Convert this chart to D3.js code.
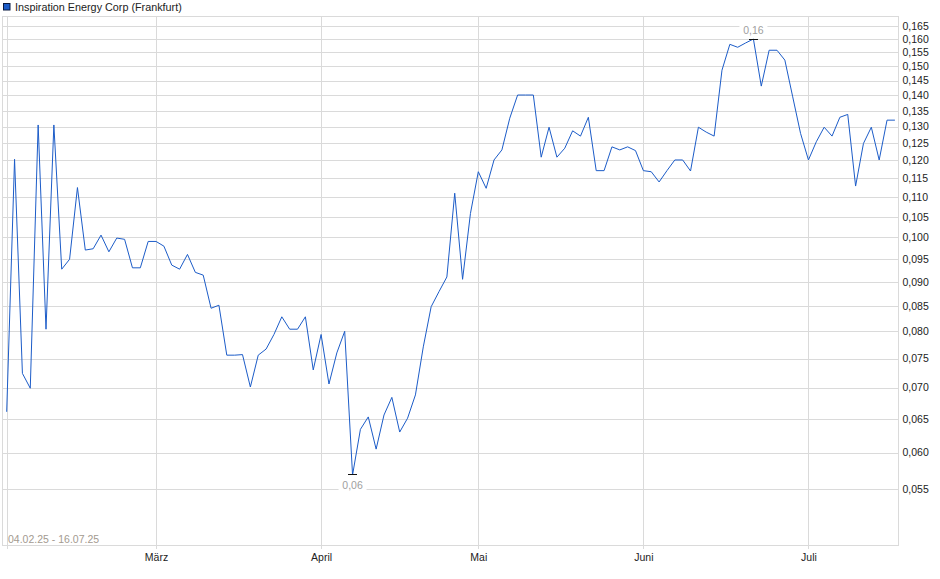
<!DOCTYPE html>
<html>
<head>
<meta charset="utf-8">
<script src="https://cdn.jsdelivr.net/npm/d3@7"></script>
<style>
  body { margin: 0; background: #fff; }
  text { font-family: "Liberation Sans", Arial, sans-serif; }
</style>
</head>
<body>
<svg id="chart" width="940" height="579"></svg>
<script>
// chart data (closing prices per trading day, 04.02.25 - 16.07.25)
const title = "Inspiration Energy Corp (Frankfurt)";
const rangeLabel = "04.02.25 - 16.07.25";
const prices = [
  0.0661, 0.1203, 0.0724, 0.0699, 0.1305, 0.0804, 0.1305, 0.0927, 0.0949, 0.1125,
  0.0970, 0.0973, 0.1005, 0.0966, 0.0998, 0.0995, 0.0930, 0.0930, 0.0990, 0.0990,
  0.0979, 0.0936, 0.0927, 0.0960, 0.0920, 0.0914, 0.0845, 0.0851, 0.0756, 0.0756,
  0.0757, 0.0701, 0.0756, 0.0767, 0.0794, 0.0828, 0.0804, 0.0804, 0.0828, 0.0730,
  0.0794, 0.0706, 0.0760, 0.0800, 0.0569, 0.0634, 0.0653, 0.0605, 0.0656, 0.0684,
  0.0630, 0.0651, 0.0688, 0.0771, 0.0848, 0.0879, 0.0910, 0.1110, 0.0905, 0.1058,
  0.1168, 0.1123, 0.1201, 0.1230, 0.1326, 0.1401, 0.1401, 0.1401, 0.1209, 0.1298,
  0.1209, 0.1235, 0.1287, 0.1271, 0.1329, 0.1171, 0.1171, 0.1239, 0.1230, 0.1239,
  0.1228, 0.1171, 0.1168, 0.1140, 0.1171, 0.1201, 0.1201, 0.1170, 0.1298, 0.1283,
  0.1271, 0.1486, 0.1580, 0.1569, 0.1585, 0.1600, 0.1431, 0.1558, 0.1558, 0.1522,
  0.1395, 0.1279, 0.1201, 0.1254, 0.1298, 0.1271, 0.1329, 0.1338, 0.1129, 0.1249,
  0.1298, 0.1201, 0.1320, 0.1320
];
// month starts as trading-day index
const monthIdx = [0, 19, 40, 60, 81, 102];
const monthLabels = ["", "März", "April", "Mai", "Juni", "Juli"];
const yTicks = [0.055, 0.060, 0.065, 0.070, 0.075, 0.080, 0.085, 0.090, 0.095, 0.100,
  0.105, 0.110, 0.115, 0.120, 0.125, 0.130, 0.135, 0.140, 0.145, 0.150, 0.155, 0.160, 0.165];

const svg = d3.select('#chart');
const pLeft = 2.5, pRight = 898.5, pTop = 16.5, pBottom = 545.5;
const gridColor = "#dadada";

const x = d3.scaleLinear().domain([0, prices.length - 1]).range([6.7, 894.9]);
const y = d3.scaleLog().domain([0.04816, 0.1687]).range([545.3, 16.7]);
const comma = f => s => f(s).replace('.', ',');

// horizontal grid + right axis labels
const yAxis = d3.axisRight(y).tickValues(yTicks).tickSize(-(pRight - pLeft)).tickPadding(4)
  .tickFormat(comma(d3.format('.3f')));
svg.append('g').attr('transform', `translate(${pRight},0)`).call(yAxis)
  .call(g => g.select('.domain').remove())
  .call(g => g.selectAll('line').attr('stroke', gridColor).attr('shape-rendering', 'crispEdges'))
  .call(g => g.selectAll('text').attr('fill', '#222').attr('font-size', '10.5px')
    .attr('font-family', '"Liberation Sans", Arial, sans-serif'));

// vertical month grid + labels
const xAxis = d3.axisBottom(x).tickValues(monthIdx).tickSize(-(pBottom - pTop) - 3)
  .tickPadding(5).tickFormat((d, i) => monthLabels[i]);
svg.append('g').attr('transform', `translate(0,${pBottom + 3})`).call(xAxis)
  .call(g => g.select('.domain').remove())
  .call(g => g.selectAll('line').attr('stroke', gridColor).attr('shape-rendering', 'crispEdges'))
  .call(g => g.selectAll('text').attr('fill', '#222').attr('font-size', '10.5px')
    .attr('font-family', '"Liberation Sans", Arial, sans-serif'));

// plot frame
svg.append('rect').attr('x', pLeft).attr('y', pTop).attr('width', pRight - pLeft).attr('height', pBottom - pTop)
  .attr('fill', 'none').attr('stroke', gridColor).attr('shape-rendering', 'crispEdges');

// date range
svg.append('text').attr('x', 8).attr('y', 543).attr('font-size', '10.5px').attr('fill', '#a39a90')
  .text(rangeLabel);

// price line
const line = d3.line().x((d, i) => x(i)).y(d => y(d));
svg.append('path').datum(prices).attr('d', line)
  .attr('fill', 'none').attr('stroke', '#1c5cc8').attr('stroke-width', 1);

// min / max markers
const fmt2 = comma(d3.format('.2f'));
const iMin = d3.minIndex(prices), iMax = d3.maxIndex(prices);
[[iMin, 1], [iMax, -1]].forEach(([i, dir]) => {
  const px = x(i), py = y(prices[i]);
  svg.append('line').attr('x1', px - 4.5).attr('x2', px + 4.5).attr('y1', py).attr('y2', py)
    .attr('stroke', '#111').attr('stroke-width', 1).attr('shape-rendering', 'crispEdges');
  const ty = dir > 0 ? py + 14 : py - 5;
  svg.append('rect').attr('x', px - 14).attr('y', ty - 10).attr('width', 28).attr('height', 12).attr('fill', '#fff');
  svg.append('text').attr('x', px).attr('y', ty).attr('text-anchor', 'middle')
    .attr('font-size', '10.5px').attr('fill', '#a0a0a0').text(fmt2(prices[i]));
});

// legend
svg.append('rect').attr('x', 3.5).attr('y', 3.5).attr('width', 6.5).attr('height', 6.5)
  .attr('fill', '#1c5cc8').attr('stroke', '#0a1a40').attr('stroke-width', 1);
svg.append('text').attr('x', 15).attr('y', 10.5).attr('font-size', '10.8px').attr('fill', '#222')
  .text(title);
</script>
</body>
</html>
